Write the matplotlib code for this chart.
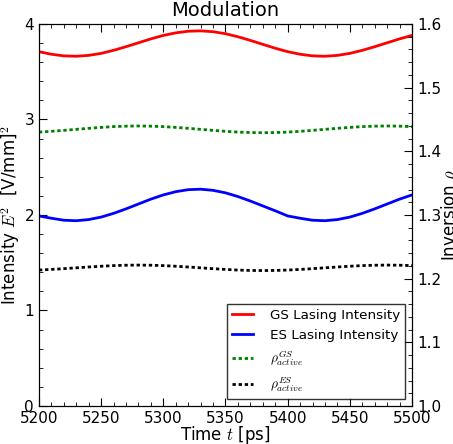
import matplotlib
matplotlib.use('Agg')
import matplotlib.pyplot as plt
from matplotlib.ticker import MultipleLocator, AutoMinorLocator

plt.rcParams['mathtext.fontset'] = 'cm'
plt.rcParams['font.family'] = ['DejaVu Sans']

# time axis [ps], sampled every 10 ps
t = [5200, 5210, 5220, 5230, 5240, 5250, 5260, 5270, 5280, 5290, 5300,
     5310, 5320, 5330, 5340, 5350, 5360, 5370, 5380, 5390, 5400,
     5410, 5420, 5430, 5440, 5450, 5460, 5470, 5480, 5490, 5500]

# lasing intensities (left axis)
gs_int = [3.710, 3.683, 3.666, 3.662, 3.671, 3.692, 3.724, 3.762, 3.803, 3.844, 3.880,
          3.907, 3.924, 3.928, 3.919, 3.898, 3.866, 3.828, 3.787, 3.746, 3.710,
          3.683, 3.666, 3.662, 3.671, 3.692, 3.724, 3.762, 3.803, 3.844, 3.880]
es_int = [1.990, 1.966, 1.945, 1.940, 1.952, 1.978, 2.017, 2.064, 2.115, 2.166, 2.210,
          2.244, 2.265, 2.270, 2.258, 2.232, 2.193, 2.146, 2.095, 2.044, 1.990,
          1.966, 1.945, 1.940, 1.952, 1.978, 2.017, 2.064, 2.115, 2.166, 2.210]

# inversion (right axis)
rho_gs = [1.4302, 1.4314, 1.4329, 1.4345, 1.4361, 1.4376, 1.4388, 1.4395, 1.4398, 1.4395, 1.4388,
          1.4376, 1.4361, 1.4345, 1.4329, 1.4314, 1.4302, 1.4295, 1.4292, 1.4295, 1.4302,
          1.4314, 1.4329, 1.4345, 1.4361, 1.4376, 1.4388, 1.4395, 1.4398, 1.4395, 1.4388]
rho_es = [1.2135, 1.2145, 1.2157, 1.2170, 1.2183, 1.2195, 1.2205, 1.2211, 1.2213, 1.2211, 1.2205,
          1.2195, 1.2183, 1.2170, 1.2157, 1.2145, 1.2135, 1.2129, 1.2127, 1.2129, 1.2135,
          1.2145, 1.2157, 1.2170, 1.2183, 1.2195, 1.2205, 1.2211, 1.2213, 1.2211, 1.2205]

fig = plt.figure(figsize=(4.53, 4.44), dpi=100)
ax = fig.add_subplot(111)
fig.subplots_adjust(left=0.086, right=0.9095, bottom=0.0856, top=0.946)
ax2 = ax.twinx()

l1, = ax.plot(t, gs_int, color='red', lw=2, label='GS Lasing Intensity')
l2, = ax.plot(t, es_int, color='blue', lw=2, label='ES Lasing Intensity')
dots = (0, (1.2, 1.0))
l3, = ax2.plot(t, rho_gs, color='green', lw=2, ls=dots, label=r'$\rho_{active}^{GS}$')
l4, = ax2.plot(t, rho_es, color='black', lw=2, ls=dots, label=r'$\rho_{active}^{ES}$')

ax.set_xlim(5200, 5500)
ax.set_ylim(0, 4)
ax2.set_ylim(1.0, 1.6)
ax.xaxis.set_major_locator(MultipleLocator(50))
ax.yaxis.set_major_locator(MultipleLocator(1))
ax2.yaxis.set_major_locator(MultipleLocator(0.1))
for a in (ax.xaxis, ax.yaxis, ax2.yaxis):
    a.set_minor_locator(AutoMinorLocator())

ax.tick_params(which='both', direction='in', top=True, labelsize=11)
ax.tick_params(which='major', length=6)
ax.tick_params(which='minor', length=3)
ax2.tick_params(which='both', direction='in', labelsize=11)
ax2.tick_params(which='major', length=6)
ax2.tick_params(which='minor', length=3)

ax.set_title('Modulation', fontsize=14)
ax.set_xlabel(r'Time $t$ [ps]', fontsize=12, labelpad=-1)
ax.set_ylabel(r'Intensity $E^2$  [V/mm]$^2$', fontsize=12)
ax.yaxis.set_label_coords(-0.045, 0.5)
ax2.set_ylabel(r'Inversion $\rho$', fontsize=12, labelpad=-1)

leg = ax2.legend(handles=[l1, l2, l3, l4], loc='lower right', fontsize=9.7,
                 fancybox=False, edgecolor='black', handlelength=1.6,
                 handletextpad=1.2)
leg.get_frame().set_linewidth(1)

fig.savefig('out.png', dpi=100)
